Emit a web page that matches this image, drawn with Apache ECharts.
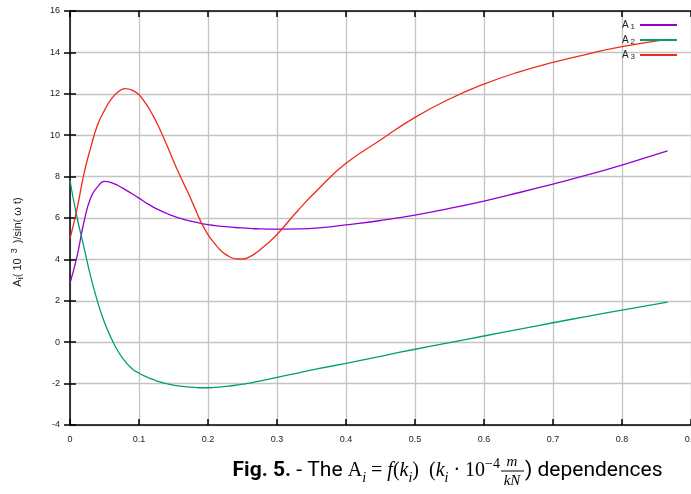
<!DOCTYPE html>
<html>
<head>
<meta charset="utf-8">
<script src="https://cdn.jsdelivr.net/npm/echarts@6/dist/echarts.min.js"></script>
<style>
  html, body { margin: 0; padding: 0; background: #fff; }
  #chart { width: 691px; height: 494px; }
</style>
</head>
<body>
<div id="chart"></div>
<script>
// k_i values (x axis) shared by the three curves
const kValues = [0, 0.01, 0.02, 0.03, 0.04, 0.05, 0.06, 0.07, 0.08, 0.09,
  0.10, 0.11, 0.12, 0.13, 0.14, 0.15, 0.16, 0.17, 0.18, 0.19,
  0.20, 0.21, 0.22, 0.23, 0.24, 0.25, 0.26, 0.27, 0.28, 0.29,
  0.30, 0.33, 0.36, 0.40, 0.45, 0.50, 0.55, 0.60, 0.65, 0.70, 0.75, 0.80, 0.866];

const a1Values = [2.85, 4.12, 5.77, 6.98, 7.5, 7.77, 7.71, 7.56, 7.37, 7.17,
  6.96, 6.74, 6.54, 6.37, 6.22, 6.09, 5.98, 5.89, 5.81, 5.74,
  5.68, 5.63, 5.6, 5.57, 5.54, 5.52, 5.5, 5.48, 5.47, 5.46,
  5.46, 5.47, 5.52, 5.67, 5.88, 6.14, 6.46, 6.82, 7.22, 7.64, 8.08, 8.56, 9.24];

const a2Values = [7.8, 6.06, 4.62, 3.17, 1.95, 0.95, 0.18, -0.46, -0.93, -1.28,
  -1.5, -1.66, -1.8, -1.92, -2.0, -2.07, -2.12, -2.16, -2.18, -2.2,
  -2.2, -2.18, -2.16, -2.12, -2.08, -2.03, -1.98, -1.91, -1.84, -1.77,
  -1.7, -1.49, -1.28, -1.02, -0.68, -0.34, -0.02, 0.30, 0.62, 0.94, 1.25, 1.55, 1.94];

const a3Values = [5.0, 6.4, 8.1, 9.4, 10.5, 11.2, 11.75, 12.1, 12.25, 12.18,
  11.95, 11.52, 10.97, 10.3, 9.55, 8.75, 8.0, 7.3, 6.55, 5.8,
  5.2, 4.75, 4.38, 4.15, 4.03, 4.02, 4.12, 4.32, 4.6, 4.88,
  5.2, 6.35, 7.4, 8.64, 9.77, 10.86, 11.75, 12.47, 13.05, 13.52, 13.92, 14.28, 14.63];

const seriesNames = ['A1', 'A2', 'A3'];
const seriesColors = ['#9400d3', '#009e73', '#ee2a1e'];
const xTicks = { min: 0, max: 0.9, interval: 0.1 };
const yTicks = { min: -4, max: 16, interval: 2 };

const zip = vals => kValues.map((k, i) => [k, vals[i]]);
const allValues = [a1Values, a2Values, a3Values];

const sans = 'Liberation Sans, Arial, sans-serif';
const narrow = 'Liberation Sans Narrow, Roboto, Liberation Sans, sans-serif';
const serif = 'Liberation Serif, DejaVu Serif, serif';

const chart = echarts.init(document.getElementById('chart'));

const baseAxis = {
  axisLine: { show: true, onZero: false, lineStyle: { color: '#000', width: 1.5 } },
  axisTick: { show: true, inside: true, length: 6, lineStyle: { color: '#000', width: 1.5 } },
  splitLine: { show: false },
  axisLabel: { show: false }
};

chart.setOption({
  animation: false,
  backgroundColor: '#fff',
  grid: { left: 70, right: 0, top: 11, bottom: 69, containLabel: false, outerBoundsMode: 'none' },
  legend: {
    orient: 'vertical',
    right: 8,
    top: 15,
    align: 'right',
    itemWidth: 37,
    itemHeight: 11,
    itemGap: 4,
    data: seriesNames,
    itemStyle: { opacity: 0 },
    formatter: name => '{a|A}{s|' + name.slice(1) + '}',
    textStyle: {
      color: '#222',
      rich: {
        a: { fontFamily: sans, fontSize: 10, lineHeight: 12 },
        s: { fontFamily: sans, fontSize: 8, lineHeight: 8, verticalAlign: 'bottom', padding: [0, 0, 0, 2] }
      }
    }
  },
  xAxis: [
    Object.assign({}, baseAxis, {
      type: 'value', position: 'bottom',
      min: xTicks.min, max: xTicks.max, interval: xTicks.interval,
      splitLine: { show: true, lineStyle: { color: '#c4c4c4', width: 1.3 } },
      axisLabel: {
        show: true, color: '#222', fontFamily: sans, fontSize: 9, margin: 10,
        alignMaxLabel: 'center',
        formatter: v => v === 0 ? '0' : v.toFixed(1)
      }
    }),
    Object.assign({}, baseAxis, {
      type: 'value', position: 'top',
      min: xTicks.min, max: xTicks.max, interval: xTicks.interval
    })
  ],
  yAxis: [
    Object.assign({}, baseAxis, {
      type: 'value', position: 'left',
      min: yTicks.min, max: yTicks.max, interval: yTicks.interval,
      splitLine: { show: true, lineStyle: { color: '#c4c4c4', width: 1.3 } },
      axisLabel: { show: true, color: '#222', fontFamily: sans, fontSize: 9, margin: 10 }
    }),
    Object.assign({}, baseAxis, {
      type: 'value', position: 'right',
      min: yTicks.min, max: yTicks.max, interval: yTicks.interval,
      axisLine: { show: false }
    })
  ],
  series: seriesNames.map((name, i) => ({
    name: name,
    type: 'line',
    data: zip(allValues[i]),
    smooth: 0.5,
    symbol: 'none',
    color: seriesColors[i],
    lineStyle: { color: seriesColors[i], width: 1.3 }
  })),
  graphic: [
    {
      type: 'text',
      x: 18, y: 242,
      rotation: Math.PI / 2,
      style: {
        text: '{a|A}{s|i}{a|( 10 }{p|3}{a| )/sin( ω t)}',
        align: 'center',
        verticalAlign: 'middle',
        fill: '#222',
        rich: {
          a: { fontFamily: sans, fontSize: 11, lineHeight: 15 },
          s: { fontFamily: sans, fontSize: 9, lineHeight: 9, verticalAlign: 'bottom' },
          p: { fontFamily: sans, fontSize: 9, lineHeight: 9, verticalAlign: 'top', padding: [0, 2, 0, 2] }
        }
      }
    },
    {
      type: 'text',
      x: 500, y: 471,
      style: {
        text: '{b|Fig. 5.}{r| - The }{m|A}{s|i}{m| = }{i|f}{m|(}{i|k}{s|i}{m|)  (}{i|k}{s|i}{m| · 10}{p|−4}',
        align: 'right',
        verticalAlign: 'middle',
        fill: '#000',
        rich: {
          b: { fontFamily: narrow, fontSize: 21, fontWeight: 'bold', lineHeight: 28 },
          r: { fontFamily: narrow, fontSize: 21, lineHeight: 28 },
          m: { fontFamily: serif, fontSize: 20, lineHeight: 28 },
          i: { fontFamily: serif, fontSize: 20, fontStyle: 'italic', lineHeight: 28 },
          s: { fontFamily: serif, fontSize: 14, fontStyle: 'italic', lineHeight: 14, verticalAlign: 'bottom' },
          p: { fontFamily: serif, fontSize: 14, lineHeight: 14, verticalAlign: 'top' }
        }
      }
    },
    {
      type: 'text',
      x: 512, y: 462,
      style: { text: 'm', align: 'center', verticalAlign: 'middle', fill: '#000',
        font: 'italic 15px ' + serif }
    },
    {
      type: 'line',
      shape: { x1: 501, y1: 471, x2: 524, y2: 471 },
      style: { stroke: '#000', lineWidth: 1 }
    },
    {
      type: 'text',
      x: 512, y: 481,
      style: { text: 'kN', align: 'center', verticalAlign: 'middle', fill: '#000',
        font: 'italic 15px ' + serif }
    },
    {
      type: 'text',
      x: 525, y: 471,
      style: { text: ') dependences', align: 'left', verticalAlign: 'middle', fill: '#000',
        font: '21px ' + narrow }
    }
  ]
});
</script>
</body>
</html>
